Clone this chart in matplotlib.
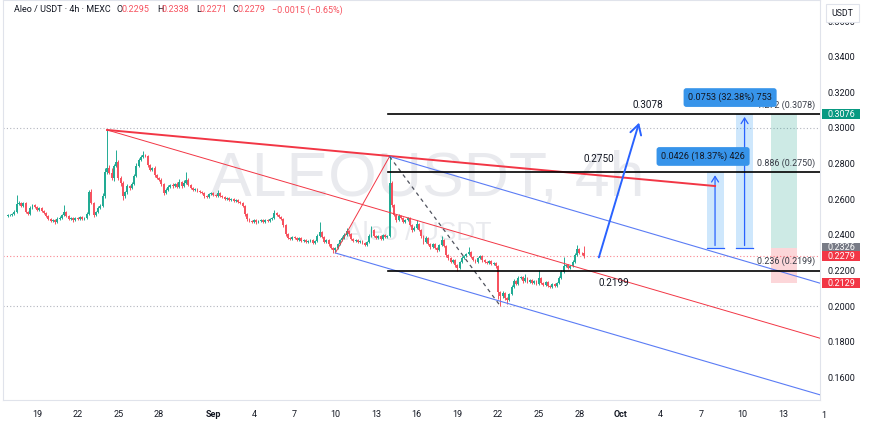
import matplotlib
matplotlib.use("Agg")
import numpy as np
import pandas as pd
import matplotlib.pyplot as plt
import matplotlib.dates as mdates
import matplotlib.transforms as mtrans
from matplotlib.patches import Rectangle

plt.rcParams['font.family'] = ['Roboto', 'DejaVu Sans']

# ---------------------------
# Candles (4h)
# ---------------------------
start_time = "2024-08-16 20:00"
first_open = 0.2505
closes = [
    0.2511, 0.2511, 0.2517, 0.2528, 0.2573, 0.2579, 0.2562, 0.2579, 0.2528, 0.2517, 0.2551, 0.2567, 0.2556, 0.2539, 0.2551, 0.2534,
    0.2522, 0.2506, 0.2489, 0.2478, 0.2483, 0.2472, 0.2489, 0.2494, 0.2511, 0.2528, 0.2506, 0.2489, 0.2494, 0.2483, 0.2494, 0.2489,
    0.2500, 0.2489, 0.2494, 0.2517, 0.2640, 0.2579, 0.2511, 0.2528, 0.2551, 0.2562, 0.2618, 0.2753, 0.2775, 0.2747, 0.2719, 0.2787,
    0.2809, 0.2719, 0.2691, 0.2618, 0.2640, 0.2674, 0.2663, 0.2685, 0.2730, 0.2787, 0.2820, 0.2837, 0.2848, 0.2843, 0.2792, 0.2764,
    0.2775, 0.2736, 0.2719, 0.2708, 0.2685, 0.2635, 0.2652, 0.2669, 0.2680, 0.2674, 0.2685, 0.2669, 0.2697, 0.2674, 0.2691, 0.2708,
    0.2680, 0.2663, 0.2652, 0.2657, 0.2646, 0.2640, 0.2635, 0.2618, 0.2612, 0.2629, 0.2635, 0.2624, 0.2618, 0.2635, 0.2618, 0.2612,
    0.2601, 0.2607, 0.2596, 0.2601, 0.2590, 0.2596, 0.2584, 0.2579, 0.2562, 0.2517, 0.2489, 0.2478, 0.2472, 0.2483, 0.2472, 0.2478,
    0.2483, 0.2472, 0.2483, 0.2478, 0.2489, 0.2494, 0.2522, 0.2511, 0.2500, 0.2489, 0.2455, 0.2404, 0.2382, 0.2376, 0.2388, 0.2382,
    0.2371, 0.2382, 0.2365, 0.2371, 0.2360, 0.2365, 0.2371, 0.2354, 0.2365, 0.2393, 0.2416, 0.2388, 0.2360, 0.2371, 0.2348, 0.2326,
    0.2315, 0.2326, 0.2348, 0.2371, 0.2382, 0.2399, 0.2421, 0.2404, 0.2376, 0.2365, 0.2371, 0.2360, 0.2365, 0.2354, 0.2343, 0.2360,
    0.2393, 0.2427, 0.2393, 0.2382, 0.2393, 0.2376, 0.2399, 0.2388, 0.2393, 0.2691, 0.2567, 0.2511, 0.2483, 0.2506, 0.2494, 0.2472,
    0.2483, 0.2494, 0.2455, 0.2427, 0.2438, 0.2461, 0.2427, 0.2393, 0.2360, 0.2382, 0.2348, 0.2331, 0.2348, 0.2326, 0.2315, 0.2343,
    0.2371, 0.2337, 0.2287, 0.2270, 0.2247, 0.2258, 0.2230, 0.2213, 0.2247, 0.2270, 0.2281, 0.2292, 0.2303, 0.2275, 0.2258, 0.2247,
    0.2270, 0.2281, 0.2258, 0.2247, 0.2242, 0.2253, 0.2236, 0.2242, 0.2225, 0.2079, 0.2056, 0.2073, 0.2045, 0.2034, 0.2067, 0.2107,
    0.2140, 0.2124, 0.2157, 0.2163, 0.2140, 0.2157, 0.2135, 0.2146, 0.2129, 0.2140, 0.2124, 0.2157, 0.2129, 0.2118, 0.2135, 0.2112,
    0.2107, 0.2124, 0.2112, 0.2129, 0.2157, 0.2191, 0.2225, 0.2230, 0.2213, 0.2225, 0.2247, 0.2287, 0.2320, 0.2298, 0.2295, 0.2279,
]
# wick lengths beyond the body, in units of 0.001
wick_up = [
    0.5, 0.4, 0.6, 1.0, 5.0, 1.2, 0.8, 0.6, 0.4, 0.8, 1.0, 0.6, 0.8, 0.5, 0.6, 0.4,
    0.6, 0.5, 0.4, 0.6, 0.8, 0.5, 0.9, 1.0, 0.8, 4.0, 0.6, 0.5, 0.7, 0.6, 0.5, 0.8,
    0.6, 0.7, 0.5, 1.0, 1.2, 2.0, 0.8, 0.6, 0.9, 1.0, 1.6, 2.0, 21.4, 1.6, 3.0, 1.0,
    6.7, 1.2, 1.0, 1.0, 0.8, 1.2, 0.8, 1.0, 1.4, 1.6, 1.2, 1.0, 2.3, 0.8, 0.8, 0.6,
    0.8, 1.0, 0.8, 0.6, 0.9, 0.7, 1.2, 0.8, 0.6, 1.0, 0.8, 1.1, 1.4, 0.6, 1.5, 4.5,
    0.9, 0.5, 0.8, 0.6, 0.5, 0.7, 0.6, 0.5, 0.4, 0.8, 0.6, 0.5, 0.7, 1.8, 0.5, 0.4,
    0.5, 0.6, 0.4, 0.5, 0.6, 0.4, 0.5, 0.6, 0.4, 0.5, 0.6, 0.4, 0.5, 0.7, 0.4, 0.5,
    0.6, 0.4, 0.6, 0.5, 0.7, 0.8, 1.7, 0.6, 0.5, 0.4, 0.6, 0.5, 0.6, 0.4, 0.7, 0.5,
    0.4, 0.8, 0.5, 0.6, 0.4, 0.6, 0.5, 0.4, 0.8, 1.4, 5.6, 0.6, 0.5, 0.8, 0.4, 0.3,
    0.4, 0.5, 0.6, 0.8, 1.0, 0.9, 1.7, 0.6, 0.4, 0.7, 0.5, 0.6, 0.5, 0.4, 0.5, 0.6,
    0.9, 2.2, 0.6, 0.5, 0.7, 0.6, 0.8, 0.5, 0.7, 14.9, 1.0, 0.6, 0.8, 1.2, 0.7, 0.5,
    0.8, 0.6, 0.5, 0.7, 0.9, 2.2, 0.5, 0.6, 0.4, 1.0, 0.5, 0.4, 0.8, 0.4, 0.5, 0.6,
    2.2, 0.5, 0.4, 0.6, 0.5, 0.8, 0.4, 0.5, 0.8, 0.9, 0.7, 0.8, 2.8, 0.6, 0.5, 0.4,
    0.8, 0.6, 0.5, 0.4, 0.6, 0.7, 0.5, 0.6, 0.4, 0.5, 0.6, 0.9, 0.5, 0.4, 0.8, 1.0,
    1.0, 0.6, 1.2, 0.8, 0.5, 2.3, 0.6, 0.7, 0.4, 0.6, 0.5, 4.5, 0.5, 0.4, 0.6, 0.5,
    0.4, 0.6, 0.5, 0.7, 1.0, 1.2, 5.0, 0.8, 0.6, 0.7, 1.0, 1.2, 2.3, 0.8, 0.6, 4.3,
]
wick_dn = [
    0.4, 0.5, 0.4, 0.6, 0.5, 0.8, 0.6, 0.5, 0.7, 0.6, 0.5, 0.4, 0.6, 0.5, 0.4, 0.6,
    0.5, 0.7, 0.6, 0.8, 0.5, 0.9, 0.6, 0.5, 0.4, 0.6, 0.8, 0.7, 0.5, 0.9, 0.6, 0.5,
    0.4, 0.6, 0.5, 0.4, 0.8, 0.6, 1.0, 0.5, 0.4, 0.6, 0.5, 1.0, 1.2, 0.8, 1.0, 1.4,
    0.8, 1.0, 1.6, 2.2, 1.0, 0.8, 0.9, 0.7, 0.6, 0.8, 0.7, 0.5, 0.8, 0.6, 1.0, 0.8,
    0.6, 0.9, 0.7, 0.8, 1.0, 1.4, 0.8, 0.6, 0.7, 0.9, 0.6, 0.8, 0.5, 0.9, 0.6, 0.7,
    0.8, 0.6, 0.7, 0.5, 0.8, 0.6, 0.7, 0.9, 0.6, 0.5, 0.7, 0.6, 0.8, 0.5, 0.7, 0.6,
    0.5, 0.7, 0.6, 0.5, 0.6, 0.7, 0.5, 0.6, 0.8, 1.0, 0.9, 0.7, 0.8, 0.6, 0.9, 0.7,
    0.6, 0.8, 0.5, 0.7, 0.6, 0.5, 0.6, 0.8, 0.7, 0.6, 0.9, 1.0, 0.8, 0.7, 0.6, 0.8,
    0.7, 0.6, 0.8, 0.5, 0.7, 0.6, 0.5, 0.8, 0.6, 0.5, 0.7, 0.8, 0.6, 0.5, 0.9, 0.8,
    1.7, 1.2, 0.6, 0.5, 0.7, 0.6, 0.5, 0.8, 0.7, 0.6, 0.5, 0.7, 0.6, 0.8, 0.7, 0.5,
    0.6, 0.5, 0.7, 0.6, 0.8, 0.5, 0.7, 0.6, 0.8, 0.4, 1.0, 0.8, 0.9, 0.6, 0.7, 0.8,
    0.7, 0.6, 0.8, 0.9, 0.6, 0.5, 0.8, 0.9, 1.0, 0.7, 0.8, 0.9, 0.7, 0.8, 0.9, 0.6,
    0.5, 0.8, 0.9, 1.0, 0.8, 0.7, 1.0, 1.6, 0.6, 0.5, 0.7, 0.6, 0.5, 0.8, 0.7, 0.6,
    0.7, 0.5, 0.8, 0.7, 0.6, 0.7, 0.8, 0.6, 0.9, 3.9, 5.6, 1.0, 0.9, 2.3, 0.8, 0.6,
    0.7, 0.8, 0.6, 0.5, 0.8, 0.6, 0.7, 0.6, 0.8, 0.5, 0.7, 0.6, 0.8, 0.7, 0.6, 0.8,
    0.7, 0.6, 0.8, 0.6, 0.5, 0.6, 0.7, 0.8, 0.6, 0.5, 0.6, 0.7, 0.8, 0.6, 0.7, 0.8,
]

# ---------------------------
# Axes ticks
# ---------------------------
price_ticks = [0.16, 0.18, 0.20, 0.22, 0.24, 0.26, 0.28, 0.30, 0.32, 0.34, 0.36]
date_ticks = ["2024-08-19", "2024-08-22", "2024-08-25", "2024-08-28", "2024-09-01",
              "2024-09-04", "2024-09-07", "2024-09-10", "2024-09-13", "2024-09-16",
              "2024-09-19", "2024-09-22", "2024-09-25", "2024-09-28", "2024-10-01",
              "2024-10-04", "2024-10-07", "2024-10-10", "2024-10-13"]
date_labels = ["19", "22", "25", "28", "Sep", "4", "7", "10", "13", "16", "19",
               "22", "25", "28", "Oct", "4", "7", "10", "13"]

# ---------------------------
# Drawings on the chart
# ---------------------------
swing_high = ("2024-08-24 04:00", 0.2989)
peak = ("2024-09-14 00:00", 0.2840)
low_a = ("2024-09-10 00:00", 0.2298)
low_b = ("2024-09-22 04:00", 0.2000)
red_trend_end = ("2024-10-08 00:00", 0.2674)
channel_end = "2024-10-17 00:00"
red_mid_end = 0.1791
blue_top_end = 0.2100
blue_low_end = 0.1473

fib_start = "2024-09-13 21:00"
fib_levels = [0.3078, 0.2750, 0.2199]
fib_ratios = ["1.272", "0.886", "0.236"]
fib_big_pos = ["2024-10-03 01:30", "2024-09-29 11:00", "2024-09-30 13:00"]
fib_big_dy = [6.5, 9.4, -8.6]

hlines_dotted = [0.30, 0.20]
last_price = 0.2279

arrow_from = ("2024-09-29 09:00", 0.2258)
arrow_to = ("2024-10-02 11:00", 0.3045)

range_base = 0.2324
range_boxes = [("2024-10-07 09:00", "2024-10-08 15:00", 0.2750),
               ("2024-10-09 12:30", "2024-10-10 20:00", 0.3078)]
range_texts = ["0.0426 (18.37%) 426", "0.0753 (32.38%) 753"]
range_text_pos = [("2024-10-07 02:50", 0.2840), ("2024-10-09 02:40", 0.3171)]

pos_span = ("2024-10-12 02:20", "2024-10-14 00:15")
pos_entry, pos_target, pos_stop = 0.2326, 0.3076, 0.2129

UP, DOWN = "#22ab94", "#f7525f"
TXT = "#131722"


def d(s):
    return mdates.date2num(pd.Timestamp(s))


times = pd.date_range(start_time, periods=len(closes), freq="4h")
t = mdates.date2num(times)
c = np.array(closes)
o = np.r_[first_open, c[:-1]]
hi = np.maximum(o, c) + np.array(wick_up) / 1000
lo = np.minimum(o, c) - np.array(wick_dn) / 1000
col = np.where(c >= o, UP, DOWN)

fig = plt.figure(figsize=(8.7, 4.32), dpi=100)
fig.patch.set_facecolor("white")
ax = fig.add_axes([3 / 870, 32 / 432, 817 / 870, 400 / 432])
Y0, Y1 = 0.1472, 0.3719
ax.set_xlim(d("2024-08-16 11:50"), d("2024-10-15 17:45"))
ax.set_ylim(Y0, Y1)

# watermark
ax.text(0.519, 0.55, "ALEOUSDT, 4h", transform=ax.transAxes, ha="center", va="center",
        fontsize=45, color="#e9eaee", family=["Liberation Sans", "DejaVu Sans"], zorder=0)
ax.text(0.508, 0.4175, "Aleo / USDT", transform=ax.transAxes, ha="center", va="center",
        fontsize=19, color="#e9eaee", family=["Liberation Sans", "DejaVu Sans"], zorder=0)

# dotted levels
for lv in hlines_dotted:
    ax.axhline(lv, color="#b2b5be", lw=0.8, ls=(0, (1, 2)), zorder=1)
ax.axhline(last_price, color=DOWN, lw=0.8, ls=(0, (1, 2)), alpha=0.7, zorder=1)

# range boxes
for (a, b, top) in range_boxes:
    ax.add_patch(Rectangle((d(a), range_base), d(b) - d(a), top - range_base,
                           fc="#2196f3", alpha=0.22, ec="none", zorder=1.5))
    mid = (d(a) + d(b)) / 2
    ax.plot([d(a), d(b)], [range_base, range_base], color="#2962ff", lw=0.9, zorder=2)
    ax.annotate("", xy=(mid, top), xytext=(mid, range_base),
                arrowprops=dict(arrowstyle="->,head_length=0.4,head_width=0.25",
                                color="#2962ff", lw=0.9), zorder=2)
for txt, (pd_, pp) in zip(range_texts, range_text_pos):
    ax.text(d(pd_), pp, txt, ha="center", va="center", fontsize=6.6, color=TXT, zorder=6,
            bbox=dict(boxstyle="round,pad=0.5,rounding_size=0.3", fc="#3794ea", ec="none"))

# long position tool
xa, xb = d(pos_span[0]), d(pos_span[1])
ax.add_patch(Rectangle((xa, pos_entry), xb - xa, pos_target - pos_entry,
                       fc="#089981", alpha=0.2, ec="none", zorder=1.5))
ax.add_patch(Rectangle((xa, pos_stop), xb - xa, pos_entry - pos_stop,
                       fc="#f23645", alpha=0.2, ec="none", zorder=1.5))

# candles
ax.vlines(t, lo, hi, colors=col, lw=0.7, zorder=3)
body = np.maximum(np.abs(c - o), 0.00025)
ax.bar(t, body, bottom=np.minimum(o, c), width=0.14, color=col, lw=0, zorder=3)

# trend lines and channel
ax.plot([d(swing_high[0]), d(red_trend_end[0])], [swing_high[1], red_trend_end[1]],
        color="#f23645", lw=1.4, zorder=4)
ax.plot([d(swing_high[0]), d(channel_end)], [swing_high[1], red_mid_end],
        color="#f23645", lw=0.7, zorder=4)
ax.plot([d(low_a[0]), d(peak[0])], [low_a[1], peak[1]], color="#f23645", lw=0.7, zorder=4)
ax.plot([d(peak[0]), d(channel_end)], [peak[1], blue_top_end], color="#5b7cf5", lw=0.8, zorder=4)
ax.plot([d(low_a[0]), d(channel_end)], [low_a[1], blue_low_end], color="#5b7cf5", lw=0.8, zorder=4)
ax.plot([d(peak[0]), d(low_b[0])], [peak[1], low_b[1]], color="#50535e", lw=0.9,
        ls=(0, (3, 3)), zorder=4)

# fib levels
xr = ax.get_xlim()[1]
for lv, ratio, bp, dy in zip(fib_levels, fib_ratios, fib_big_pos, fib_big_dy):
    ax.plot([d(fib_start), xr], [lv, lv], color="#000000", lw=1.2, zorder=4)
    ax.annotate(f"{lv:.4f}", xy=(d(bp), lv), xytext=(0, dy), textcoords="offset points",
                ha="center", va="center", fontsize=7.2, color=TXT, zorder=5)
    ax.annotate(f"{ratio} ({lv:.4f})", xy=(d("2024-10-15 09:00"), lv), xytext=(0, 6.5),
                textcoords="offset points", ha="right", va="center", fontsize=6.4,
                color="#363a45", zorder=5)

# projection arrow
ax.annotate("", xy=(d(arrow_to[0]), arrow_to[1]), xytext=(d(arrow_from[0]), arrow_from[1]),
            arrowprops=dict(arrowstyle="->,head_length=0.7,head_width=0.4",
                            color="#2962ff", lw=1.4), zorder=5)

# axes styling
for sp in ax.spines.values():
    sp.set_color("#e0e3eb")
    sp.set_linewidth(0.8)
ax.yaxis.tick_right()
ax.set_yticks(price_ticks)
ax.set_yticklabels([f"{p:.4f}" for p in price_ticks])
ax.tick_params(axis="y", length=0, pad=5.5, labelsize=6.5, labelcolor=TXT)
ax.set_xticks([d(s) for s in date_ticks])
ax.set_xticklabels(date_labels)
ax.tick_params(axis="x", length=0, pad=7.5, labelsize=6.5, labelcolor=TXT)
for lab in ax.get_xticklabels():
    if lab.get_text() in ("Sep", "Oct"):
        lab.set_fontweight("bold")
ax.text(d("2024-10-16"), -15 / 400, "1", transform=mtrans.blended_transform_factory(ax.transData, ax.transAxes),
        ha="center", va="center", fontsize=6.5, color=TXT, clip_on=False)


def fy(p):
    return (32 + (p - Y0) / (Y1 - Y0) * 400) / 432


# price labels on the axis
for p, fc in [(pos_entry, "#787b86"), (last_price, "#f23645"), (pos_target, "#089981"), (pos_stop, "#f23645")]:
    fig.patches.append(Rectangle((822 / 870, fy(p) - 5 / 432), 38 / 870, 10 / 432,
                                 transform=fig.transFigure, fc=fc, ec="none", zorder=5))
    fig.text(841 / 870, fy(p), f"{p:.4f}", ha="center", va="center", fontsize=6.5,
             color="white", zorder=6)

# USDT button
fig.patches.append(Rectangle((826 / 870, 1 - 22 / 432), 33 / 870, 18 / 432, transform=fig.transFigure,
                             fc="white", ec="#e0e3eb", lw=0.8, zorder=5))
fig.text(842.5 / 870, 1 - 13 / 432, "USDT", ha="center", va="center", fontsize=6.3, color=TXT, zorder=6)

# header
hy = 1 - 10 / 432
pieces = [(14, "Aleo / USDT · 4h · MEXC", TXT), (117, "O", TXT), (122, "0.2295", DOWN),
          (157, "H", TXT), (162, "0.2338", DOWN), (196, "L", TXT), (200, "0.2271", DOWN),
          (233, "C", TXT), (238, "0.2279", DOWN), (272, "\u22120.0015 (\u22120.65%)", DOWN)]
for px, s, cl in pieces:
    fig.text(px / 870, hy, s, ha="left", va="center", fontsize=6.5, color=cl)

fig.savefig("out.png", dpi=100, facecolor="white")
